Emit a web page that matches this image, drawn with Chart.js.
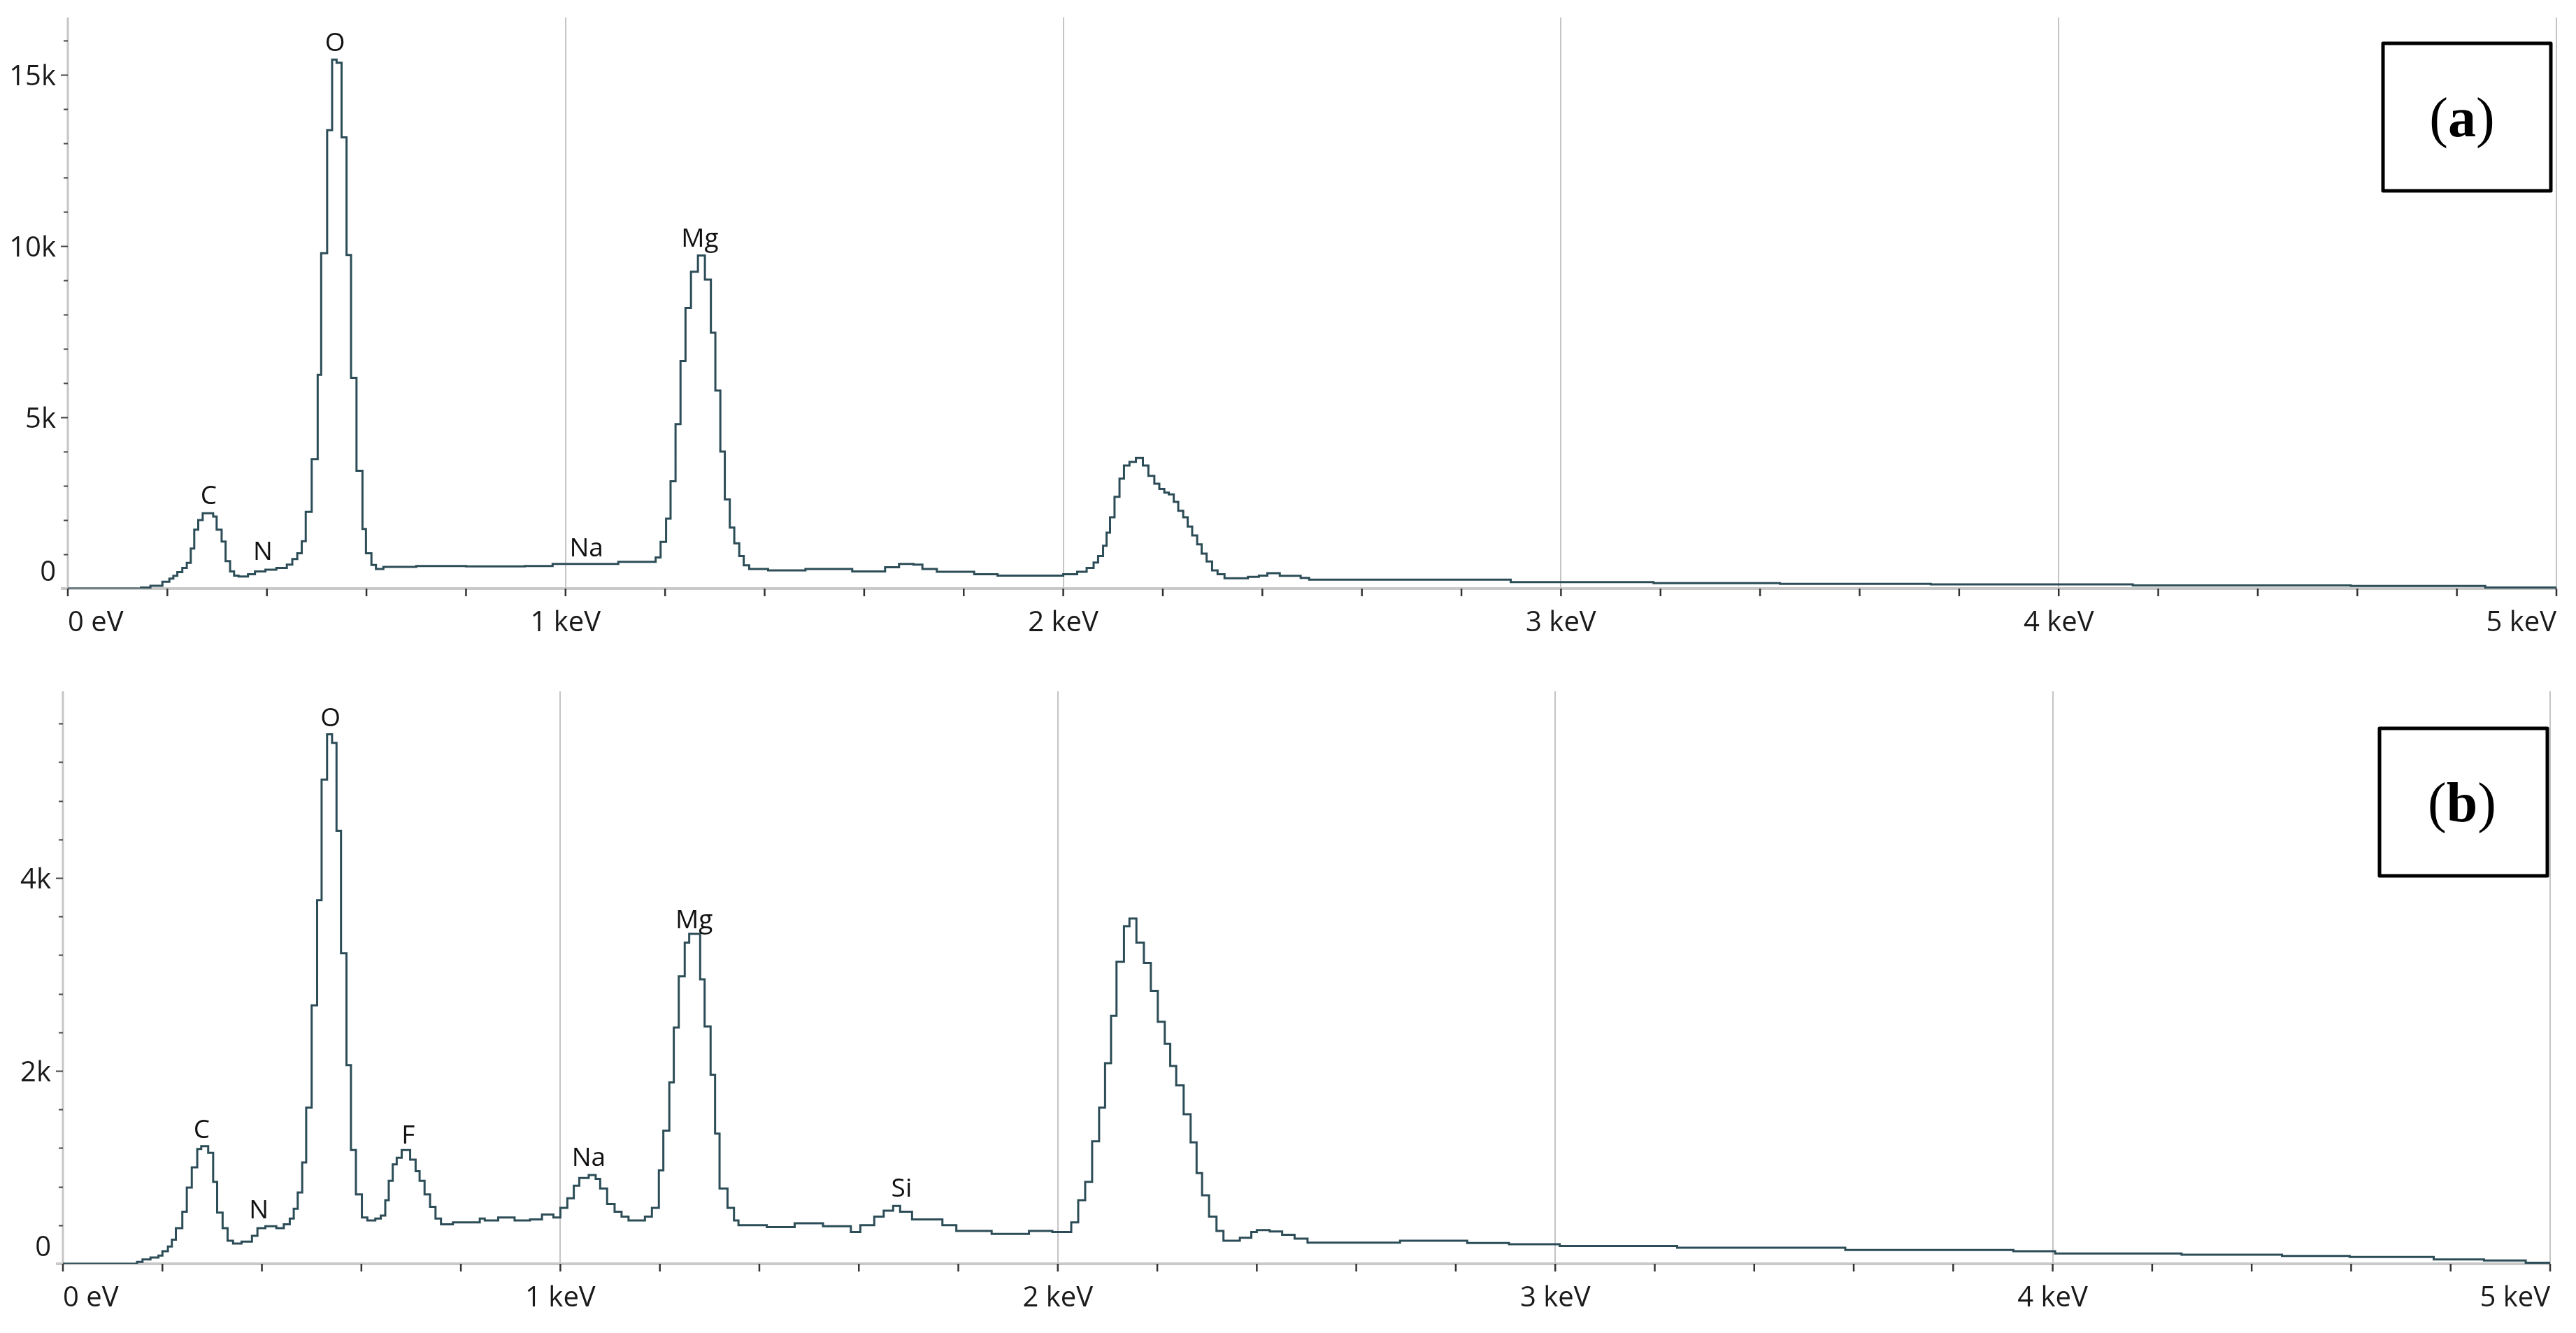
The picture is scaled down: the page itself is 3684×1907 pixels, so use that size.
<!DOCTYPE html>
<html>
<head>
<meta charset="utf-8">
<script src="https://cdn.jsdelivr.net/npm/chart.js@4.4.1/dist/chart.umd.min.js"></script>
<style>
  html, body { margin: 0; padding: 0; background: #fff; }
  body { width: 3684px; height: 1907px; position: relative; overflow: hidden; }
  canvas { position: absolute; left: 0; }
</style>
</head>
<body>
<canvas id="spectrumA" width="3684" height="950" style="top:0"></canvas>
<canvas id="spectrumB" width="3684" height="957" style="top:950px"></canvas>
<script>
// spectrum (a): left edge of each channel group (keV) and counts
const energyA = [0, 0.147, 0.166, 0.190, 0.204, 0.212, 0.220, 0.230, 0.239, 0.247, 0.254, 0.262, 0.271, 0.292, 0.299,
  0.309, 0.317, 0.326, 0.334, 0.343, 0.362, 0.376, 0.397, 0.419, 0.440, 0.451, 0.461, 0.470, 0.478, 0.490, 0.502,
  0.509, 0.521, 0.531, 0.540, 0.550, 0.560, 0.569, 0.580, 0.592, 0.599, 0.610, 0.619, 0.634, 0.700, 0.800, 0.918,
  0.974, 1.106, 1.181, 1.191, 1.202, 1.211, 1.221, 1.231, 1.241, 1.252, 1.266, 1.280, 1.292, 1.301, 1.311, 1.320,
  1.330, 1.339, 1.349, 1.358, 1.369, 1.407, 1.482, 1.576, 1.642, 1.670, 1.699, 1.717, 1.746, 1.821, 1.868, 2.000,
  2.028, 2.047, 2.061, 2.070, 2.080, 2.087, 2.094, 2.103, 2.113, 2.122, 2.133, 2.146, 2.160, 2.171, 2.183, 2.193,
  2.203, 2.212, 2.222, 2.231, 2.241, 2.250, 2.259, 2.269, 2.278, 2.288, 2.299, 2.310, 2.324, 2.371, 2.393, 2.410,
  2.435, 2.477, 2.494, 2.899, 3.186, 3.440, 3.743, 4.149, 4.587, 4.857, 5.000];
const countsA = [0, 30, 80, 200, 290, 370, 480, 600, 750, 1170, 1720, 2000, 2200, 2100, 1720,
  1370, 800, 500, 380, 350, 420, 500, 550, 600, 700, 860, 1030, 1380, 2240, 3780, 6240,
  9790, 13380, 15440, 15350, 13170, 9740, 6150, 3440, 1740, 1030, 690, 570, 630, 660, 650, 660,
  720, 780, 910, 1360, 2040, 3130, 4800, 6640, 8190, 9250, 9720, 9020, 7470, 5780, 4000, 2600,
  1780, 1320, 950, 680, 570, 530, 570, 500, 620, 720, 700, 570, 490, 420, 380, 420,
  490, 600, 760, 950, 1250, 1630, 2080, 2680, 3210, 3590, 3700, 3810, 3590, 3290, 3060, 2910,
  2800, 2750, 2530, 2270, 2080, 1810, 1550, 1290, 1020, 790, 530, 420, 300, 340, 380, 450,
  370, 310, 260, 190, 160, 140, 120, 90, 75, 30, 30];

// spectrum (b)
const energyB = [0, 0.149, 0.160, 0.176, 0.192, 0.200, 0.211, 0.219, 0.227, 0.240, 0.249, 0.259, 0.270, 0.278, 0.292,
  0.302, 0.310, 0.321, 0.331, 0.342, 0.359, 0.380, 0.391, 0.407, 0.429, 0.444, 0.456, 0.464, 0.472, 0.481, 0.489,
  0.500, 0.511, 0.520, 0.531, 0.541, 0.550, 0.559, 0.570, 0.579, 0.589, 0.601, 0.612, 0.628, 0.639, 0.648, 0.655,
  0.663, 0.671, 0.681, 0.698, 0.709, 0.717, 0.727, 0.738, 0.749, 0.760, 0.784, 0.838, 0.848, 0.875, 0.908, 0.939,
  0.963, 0.986, 1.000, 1.014, 1.027, 1.038, 1.057, 1.071, 1.080, 1.094, 1.109, 1.123, 1.137, 1.170, 1.184, 1.198,
  1.207, 1.219, 1.228, 1.238, 1.250, 1.259, 1.281, 1.290, 1.302, 1.311, 1.320, 1.336, 1.349, 1.358, 1.415, 1.471,
  1.528, 1.584, 1.603, 1.631, 1.650, 1.669, 1.683, 1.707, 1.768, 1.796, 1.867, 1.942, 1.989, 2.027, 2.041, 2.055,
  2.069, 2.083, 2.095, 2.107, 2.118, 2.133, 2.144, 2.158, 2.173, 2.187, 2.201, 2.215, 2.226, 2.238, 2.253, 2.267,
  2.279, 2.290, 2.304, 2.319, 2.333, 2.366, 2.389, 2.400, 2.426, 2.451, 2.476, 2.502, 2.688, 2.823, 2.907, 3.009,
  3.245, 3.583, 3.921, 4.005, 4.259, 4.461, 4.597, 4.766, 4.867, 4.951, 5.000];
const countsB = [0, 20, 45, 65, 85, 130, 180, 250, 370, 540, 790, 1000, 1190, 1220, 1150,
  850, 530, 370, 240, 210, 230, 290, 370, 390, 370, 410, 470, 570, 740, 1050, 1620,
  2680, 3770, 5020, 5490, 5400, 4490, 3220, 2060, 1180, 720, 480, 450, 470, 500, 660, 860,
  1030, 1100, 1180, 1080, 960, 860, 720, 590, 470, 410, 430, 470, 450, 480, 450, 460,
  510, 480, 580, 680, 810, 890, 920, 880, 780, 620, 540, 490, 450, 490, 580, 970,
  1380, 1880, 2450, 2980, 3330, 3420, 2950, 2460, 1960, 1350, 780, 580, 450, 400, 380, 420,
  390, 330, 400, 490, 550, 600, 540, 460, 400, 340, 310, 340, 330, 430, 660, 850,
  1270, 1620, 2080, 2570, 3130, 3500, 3580, 3330, 3120, 2830, 2510, 2280, 2050, 1850, 1550, 1260,
  940, 710, 490, 340, 240, 270, 330, 350, 335, 300, 260, 220, 240, 215, 203, 184,
  167, 143, 130, 106, 94, 82, 70, 46, 34, 10, 10];

const xTickValues = [0, 1, 2, 3, 4, 5];
const xTickLabels = ['0 eV', '1 keV', '2 keV', '3 keV', '4 keV', '5 keV'];
const yTicksA = [0, 5000, 10000, 15000];
const yLabelsA = ['0', '5k', '10k', '15k'];
const yTicksB = [0, 2000, 4000];
const yLabelsB = ['0', '2k', '4k'];

// element labels, placed in data units (keV, counts at text baseline)
const elementsA = ['C', 'N', 'O', 'Na', 'Mg'];
const elementEnergyA = [0.283, 0.392, 0.537, 1.042, 1.270];
const elementCountsA = [2460, 840, 15690, 945, 9970];
const elementsB = ['C', 'N', 'O', 'F', 'Na', 'Mg', 'Si'];
const elementEnergyB = [0.279, 0.394, 0.538, 0.694, 1.057, 1.269, 1.686];
const elementCountsB = [1305, 472, 5576, 1244, 1013, 3477, 693];

const FONT = '"Open Sans", "Noto Sans", sans-serif';
const LINE = '#2c4d57';
const HGRID = '#a9a9a9';
const VGRID = '#c4c4c4';

function isWhole(v) {
  return Math.abs(v - Math.round(v)) < 1e-6;
}

// axis lines, tick marks, y labels, element labels and the panel box
function decoPlugin(cfg) {
  return {
    id: 'deco',
    beforeDatasetsDraw(chart) {
      const ctx = chart.ctx;
      const a = chart.chartArea;
      const xs = chart.scales.x;
      const ys = chart.scales.y;
      ctx.save();
      // y axis
      ctx.strokeStyle = '#c6c6c6';
      ctx.lineWidth = 3;
      ctx.beginPath();
      ctx.moveTo(a.left, a.top);
      ctx.lineTo(a.left, a.bottom);
      ctx.stroke();
      // x axis
      ctx.strokeStyle = '#c9c9c9';
      ctx.lineWidth = 4;
      ctx.beginPath();
      ctx.moveTo(a.left - 10, a.bottom);
      ctx.lineTo(a.right, a.bottom);
      ctx.stroke();
      // y ticks
      ctx.strokeStyle = '#444';
      ctx.lineWidth = 2;
      for (let v = cfg.yMinor; v <= cfg.yMax; v += cfg.yMinor) {
        const py = Math.round(ys.getPixelForValue(v)) + 0.5;
        const len = v % cfg.yMajor === 0 ? 10 : 6;
        ctx.beginPath();
        ctx.moveTo(a.left - len, py);
        ctx.lineTo(a.left, py);
        ctx.stroke();
      }
      // x ticks every 0.2 keV
      ctx.strokeStyle = '#333';
      ctx.lineWidth = 2.5;
      for (let i = 0; i <= 25; i++) {
        const px = xs.getPixelForValue(i * 0.2);
        ctx.beginPath();
        ctx.moveTo(px, a.bottom);
        ctx.lineTo(px, a.bottom + 11);
        ctx.stroke();
      }
      ctx.restore();
    },
    afterDraw(chart) {
      const ctx = chart.ctx;
      const a = chart.chartArea;
      const xs = chart.scales.x;
      const ys = chart.scales.y;
      ctx.save();
      ctx.fillStyle = '#1a1a1a';
      ctx.font = '40px ' + FONT;
      ctx.textAlign = 'right';
      ctx.textBaseline = 'middle';
      cfg.yTicks.forEach((v, i) => {
        const py = ys.getPixelForValue(v) + (v === 0 ? -22 : 4);
        ctx.fillText(cfg.yLabels[i], a.left - 17, py);
      });

      ctx.fillStyle = '#111';
      ctx.font = '37px ' + FONT;
      ctx.textAlign = 'center';
      ctx.textBaseline = 'alphabetic';
      cfg.names.forEach((n, i) => {
        ctx.fillText(n, xs.getPixelForValue(cfg.energies[i]), ys.getPixelForValue(cfg.heights[i]));
      });

      // panel tag box
      const b = cfg.box;
      ctx.fillStyle = '#fff';
      ctx.fillRect(b.x, b.y, b.w, b.h);
      ctx.strokeStyle = '#000';
      ctx.lineWidth = 5;
      ctx.lineJoin = 'round';
      ctx.strokeRect(b.x, b.y, b.w, b.h);
      ctx.fillStyle = '#000';
      ctx.textAlign = 'left';
      const reg = '80px "Liberation Serif", "Times New Roman", serif';
      const bold = 'bold ' + reg;
      ctx.font = reg;
      const wp = ctx.measureText('(').width;
      const wq = ctx.measureText(')').width;
      ctx.font = bold;
      const wl = ctx.measureText(cfg.tag).width;
      let x = b.cx - (wp + wl + wq) / 2;
      ctx.font = reg;
      ctx.fillText('(', x, b.base);
      x += wp;
      ctx.font = bold;
      ctx.fillText(cfg.tag, x, b.base);
      x += wl;
      ctx.font = reg;
      ctx.fillText(')', x, b.base);
      ctx.restore();
    }
  };
}

function makeSpectrum(id, energy, counts, cfg) {
  const points = energy.map((e, i) => ({ x: e, y: counts[i] }));
  return new Chart(document.getElementById(id), {
    type: 'line',
    data: {
      datasets: [{
        data: points,
        stepped: 'before',
        borderColor: LINE,
        borderWidth: 3,
        pointRadius: 0,
        fill: false
      }]
    },
    options: {
      responsive: false,
      animation: false,
      events: [],
      layout: { padding: cfg.padding },
      plugins: { legend: { display: false }, tooltip: { enabled: false } },
      scales: {
        x: {
          type: 'linear',
          min: 0,
          max: 5,
          border: { display: false },
          grid: {
            drawTicks: false,
            lineWidth: 2,
            color: (c) => (c.tick && isWhole(c.tick.value) && c.tick.value > 0) ? VGRID : 'rgba(0,0,0,0)'
          },
          ticks: {
            stepSize: 0.2,
            autoSkip: false,
            maxRotation: 0,
            align: 'inner',
            padding: 26,
            color: '#1a1a1a',
            font: { family: FONT, size: 40 },
            callback: (v) => {
              const k = xTickValues.findIndex((t) => Math.abs(t - v) < 1e-6);
              return k >= 0 ? xTickLabels[k] : '';
            }
          },
          afterFit: (s) => { s.height = cfg.xHeight; }
        },
        y: {
          min: 0,
          max: cfg.yMax,
          border: { display: false },
          grid: {
            drawTicks: false,
            lineWidth: 2,
            color: (c) => (c.tick && c.tick.value > 0 && c.tick.value % cfg.yMajor === 0) ? HGRID : 'rgba(0,0,0,0)'
          },
          ticks: { display: false, stepSize: cfg.yMinor },
          afterFit: (s) => { s.width = cfg.yWidth; }
        }
      }
    },
    plugins: [decoPlugin(cfg)]
  });
}

function draw() {
  makeSpectrum('spectrumA', energyA, countsA, {
    padding: { left: 0, right: 28, top: 25, bottom: 0 },
    yWidth: 97, xHeight: 108,
    yMax: 16670, yMinor: 1000, yMajor: 5000,
    yTicks: yTicksA, yLabels: yLabelsA,
    names: elementsA, energies: elementEnergyA, heights: elementCountsA,
    tag: 'a',
    box: { x: 3408, y: 62, w: 240, h: 211, cx: 3521, base: 195 }
  });
  makeSpectrum('spectrumB', energyB, countsB, {
    padding: { left: 0, right: 37, top: 39, bottom: 0 },
    yWidth: 90, xHeight: 99,
    yMax: 5935, yMinor: 400, yMajor: 2000,
    yTicks: yTicksB, yLabels: yLabelsB,
    names: elementsB, energies: elementEnergyB, heights: elementCountsB,
    tag: 'b',
    box: { x: 3403, y: 92, w: 240, h: 211, cx: 3521, base: 225 }
  });
}

if (document.fonts && document.fonts.load) {
  Promise.all([
    document.fonts.load('40px "Open Sans"'),
    document.fonts.load('bold 80px "Liberation Serif"'),
    document.fonts.load('80px "Liberation Serif"')
  ]).then(draw, draw);
} else {
  draw();
}
</script>
</body>
</html>
